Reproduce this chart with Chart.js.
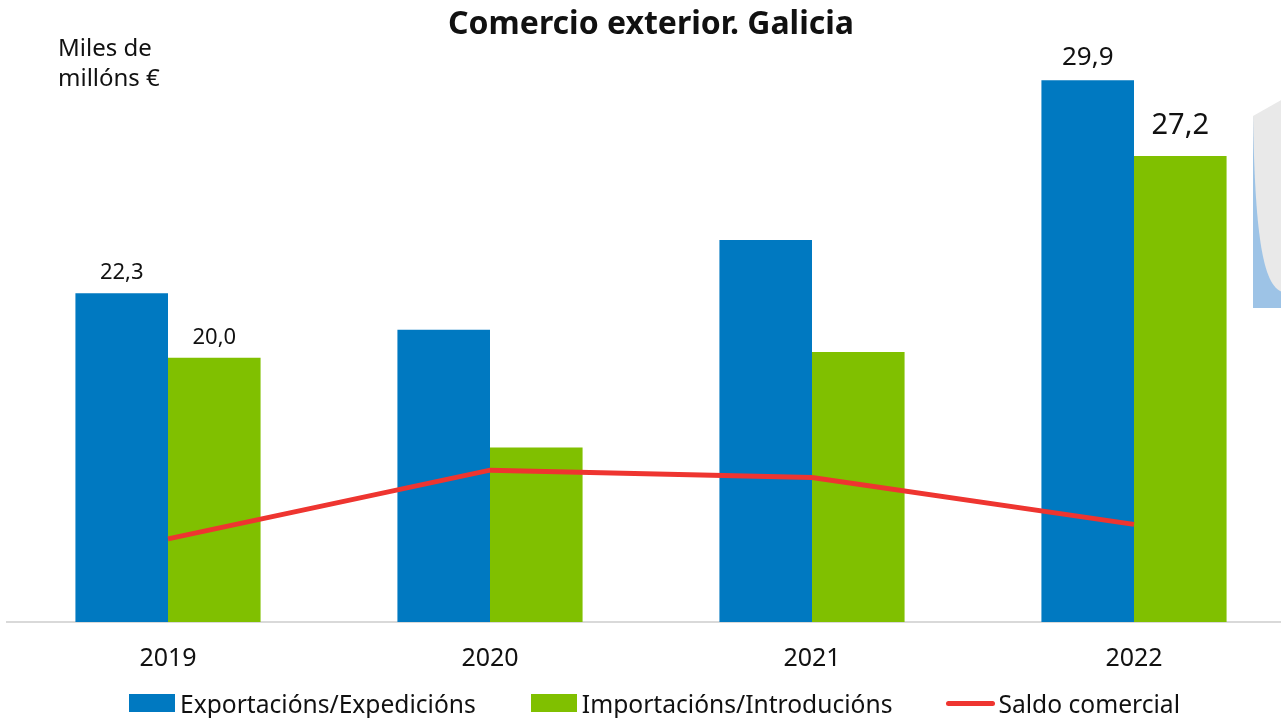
<!DOCTYPE html>
<html lang="gl">
<head>
<meta charset="utf-8">
<title>Comercio exterior. Galicia</title>
<script src="https://cdn.jsdelivr.net/npm/chart.js@4.4.1/dist/chart.umd.min.js"></script>
<style>
  html, body { margin: 0; padding: 0; background: #fff; overflow: hidden; }
  body { width: 1281px; height: 718px; position: relative; font-family: "Noto Sans", "Open Sans", sans-serif; }
  #wrap { position: absolute; left: 0; top: 0; width: 1300px; height: 718px; }
  #unit { position: absolute; left: 58px; top: 32px; font-size: 24px; line-height: 30px; color: #111; }
  #legend { position: absolute; left: 0; width: 1309px; top: 688px; display: flex; justify-content: center; font-size: 24.6px; color: #111; }
  #legend .item { display: flex; align-items: center; height: 30px; white-space: nowrap; }
  #legend .sw { display: inline-block; width: 46px; margin-right: 5px; }
</style>
</head>
<body>
<div id="wrap"><canvas id="chart" width="1300" height="718"></canvas></div>
<div id="unit">Miles de<br>millóns €</div>
<div id="legend"></div>
<script>
// datos (miles de millóns €)
const years = ["2019", "2020", "2021", "2022"];
const exportacions = [22.3, 21.0, 24.2, 29.9];
const importacions = [20.0, 16.8, 20.2, 27.2];
const saldo = [2.3, 4.2, 4.0, 2.7];
// só levan etiqueta o primeiro e o último ano
const labelledYears = ["2019", "2022"];

const BLUE = "#0079c1";
const GREEN = "#80c000";
const RED = "#ee3530";
const TEXT = "#111111";
const FONT = "'Noto Sans', 'Open Sans', sans-serif";

Chart.defaults.font.family = FONT;
Chart.defaults.color = TEXT;

const fmt = (v) => v.toFixed(1).replace(".", ",");

// etiquetas de valor enriba das barras
const valueLabels = {
  id: "valueLabels",
  afterDatasetsDraw(chart) {
    const ctx = chart.ctx;
    ctx.save();
    ctx.fillStyle = TEXT;
    ctx.textAlign = "center";
    ctx.textBaseline = "middle";
    [0, 1].forEach((di) => {
      const meta = chart.getDatasetMeta(di);
      const ds = chart.data.datasets[di];
      meta.data.forEach((bar, i) => {
        if (!labelledYears.includes(chart.data.labels[i])) return;
        const last = i === years.length - 1;
        const big = di === 1 && last;
        const size = big ? 29 : (last ? 26 : 22);
        const off = big ? 30 : (last ? 23 : (di === 1 ? 20 : 21));
        ctx.font = `${size}px ${FONT}`;
        ctx.fillText(fmt(ds.data[i]), bar.x, bar.y - off);
      });
    });
    ctx.restore();
  },
};

// anaco de imaxe recortada no bordo dereito
const edgeDecor = {
  id: "edgeDecor",
  afterDraw(chart) {
    const ctx = chart.ctx;
    ctx.save();
    ctx.fillStyle = "#9dc3e6";
    ctx.fillRect(1253, 116, 30, 192);
    ctx.fillStyle = "#e9e9e9";
    ctx.beginPath();
    ctx.moveTo(1253, 116);
    ctx.lineTo(1283, 99);
    ctx.lineTo(1283, 292);
    ctx.bezierCurveTo(1262, 287, 1255, 230, 1253, 116);
    ctx.closePath();
    ctx.fill();
    ctx.restore();
  },
};

const chart = new Chart(document.getElementById("chart"), {
  data: {
    labels: years,
    datasets: [
      {
        type: "bar",
        label: "Exportacións/Expedicións",
        data: exportacions,
        backgroundColor: BLUE,
        yAxisID: "y",
        order: 1,
        barPercentage: 1,
        categoryPercentage: 0.575,
      },
      {
        type: "bar",
        label: "Importacións/Introducións",
        data: importacions,
        backgroundColor: GREEN,
        yAxisID: "y",
        order: 1,
        barPercentage: 1,
        categoryPercentage: 0.575,
      },
      {
        type: "line",
        label: "Saldo comercial",
        data: saldo,
        borderColor: RED,
        backgroundColor: RED,
        borderWidth: 5,
        pointRadius: 0,
        tension: 0,
        yAxisID: "y2",
        order: 0,
      },
    ],
  },
  plugins: [valueLabels, edgeDecor],
  options: {
    responsive: false,
    animation: false,
    layout: { padding: { left: 7, right: 5, top: 0, bottom: 22 } },
    plugins: {
      legend: { display: false },
      tooltip: { enabled: false },
      title: {
        display: true,
        text: "Comercio exterior. Galicia",
        color: TEXT,
        font: { size: 32, weight: "bold" },
        padding: { top: 6, bottom: 5 },
      },
    },
    scales: {
      x: {
        grid: { display: false, drawTicks: false },
        border: { display: true, color: "#d9d9d9", width: 2 },
        ticks: { color: TEXT, font: { size: 25 }, padding: 22 },
      },
      y: { display: false, min: 10.57, max: 31.0 },
      y2: { display: false, min: 0, max: 15.84, position: "right" },
    },
  },
});

// lenda en HTML, coas cores dos datasets
const legendEl = document.getElementById("legend");
const legendGaps = [0, 55, 54];
chart.data.datasets.forEach((ds, i) => {
  const item = document.createElement("div");
  item.className = "item";
  item.style.marginLeft = legendGaps[i] + "px";
  const sw = document.createElement("span");
  sw.className = "sw";
  if (ds.type === "line") {
    sw.style.height = "5px";
    sw.style.borderRadius = "3px";
    sw.style.width = "49px";
    sw.style.marginRight = "3px";
  } else {
    sw.style.height = "18px";
  }
  sw.style.background = ds.type === "line" ? ds.borderColor : ds.backgroundColor;
  item.appendChild(sw);
  item.appendChild(document.createTextNode(ds.label));
  legendEl.appendChild(item);
});
</script>
</body>
</html>
